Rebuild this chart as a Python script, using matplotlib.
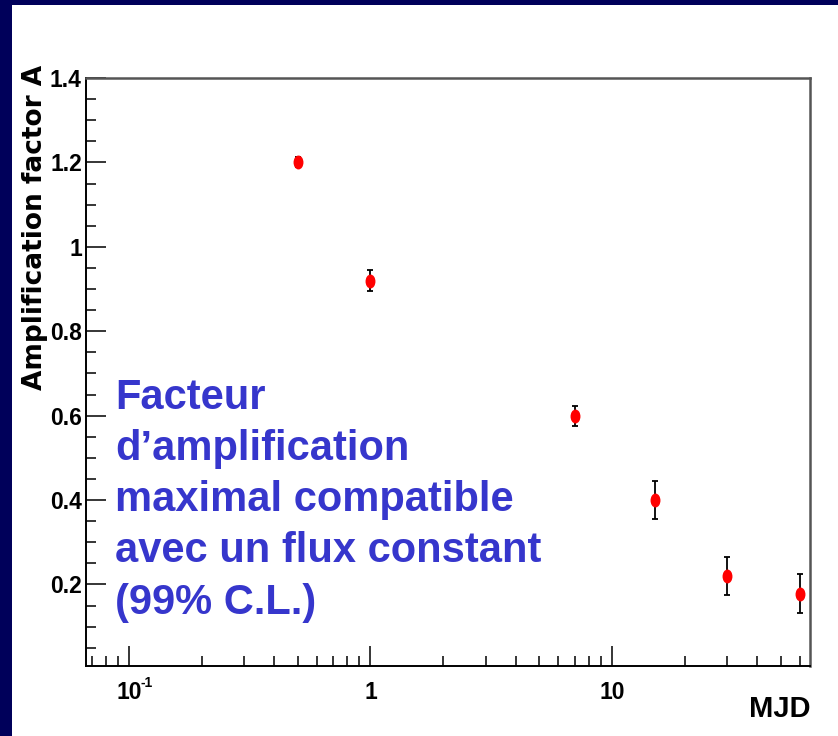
import numpy as np
import matplotlib
matplotlib.use("Agg")
import matplotlib.pyplot as plt
from matplotlib.patches import Rectangle
from matplotlib.path import Path
from matplotlib.ticker import FixedLocator, NullFormatter
import matplotlib.transforms as mtransforms

# ---------------------------------------------------------------------------
# data
# ---------------------------------------------------------------------------
mjd = [0.5, 1.0, 7.0, 15.0, 30.0, 60.0]
amp = [1.20, 0.92, 0.60, 0.40, 0.22, 0.178]
amp_err = [0.012, 0.024, 0.024, 0.046, 0.046, 0.046]

x_major = [0.1, 1, 10]
x_major_labels = ["10", "1", "10"]
y_major = [0.2, 0.4, 0.6, 0.8, 1.0, 1.2, 1.4]
y_major_labels = ["0.2", "0.4", "0.6", "0.8", "1", "1.2", "1.4"]

note = "Facteur\nd\u2019amplification\nmaximal compatible\navec un flux constant\n(99% C.L.)"

# ---------------------------------------------------------------------------
# figure
# ---------------------------------------------------------------------------
W, H = 838, 736
fig = plt.figure(figsize=(W / 100, H / 100), dpi=100, facecolor="white")

# navy slide border (left and top)
navy = "#00005a"
fig.add_artist(Rectangle((0, 0), 12 / W, 1, transform=fig.transFigure, color=navy, lw=0))
fig.add_artist(Rectangle((0, 1 - 5 / H), 1, 5 / H, transform=fig.transFigure, color=navy, lw=0))

left, right, top, bottom = 86, 810, 78, 665.5
ax = fig.add_axes([left / W, 1 - bottom / H, (right - left) / W, (bottom - top) / H])

tick_font = "Liberation Sans"

# ellipse marker (points are stretched vertically in the original)
ell = Path.unit_circle().transformed(mtransforms.Affine2D().scale(0.68, 1.0))

ax.errorbar(mjd, amp, yerr=amp_err, fmt="none", ecolor="black", elinewidth=1.3,
            capsize=2.2, capthick=1.3, zorder=2)
ax.plot(mjd, amp, ls="none", marker=ell, ms=9, mfc="#ff0000", mec="#ff0000", zorder=3)

ax.set_xscale("log")
ax.set_xlim(0.0664, 66.0)
ax.set_ylim(0.008, 1.4)

ax.xaxis.set_major_locator(FixedLocator(x_major))
ax.xaxis.set_minor_locator(FixedLocator([m * 10.0 ** e for e in (-2, -1, 0, 1) for m in range(2, 10)]))
ax.xaxis.set_minor_formatter(NullFormatter())
ax.set_xticklabels(x_major_labels)
ax.yaxis.set_major_locator(FixedLocator(y_major))
ax.yaxis.set_minor_locator(FixedLocator(np.arange(0.05, 1.41, 0.05)))
ax.set_yticklabels(y_major_labels)

ax.tick_params(which="both", direction="in", top=False, right=False, color="black", width=1.1)
ax.tick_params(which="major", length=14.5)
ax.tick_params(which="minor", length=7.2)
ax.tick_params(axis="x", which="major", pad=11)
ax.tick_params(axis="y", which="major", pad=3)
for lab in ax.get_xticklabels() + ax.get_yticklabels():
    lab.set_family(tick_font)
    lab.set_weight("bold")
    lab.set_fontsize(16.5)

# exponent of the 10^-1 label
ax.annotate("-1", xy=(0.1, 0), xycoords=("data", "axes fraction"), xytext=(8.5, -7.5),
            textcoords="offset points", family=tick_font, weight="bold", fontsize=10,
            ha="left", va="top")

for s in ("left", "bottom"):
    ax.spines[s].set_color("black")
    ax.spines[s].set_linewidth(1.4)
for s in ("top", "right"):
    ax.spines[s].set_color("#555555")
    ax.spines[s].set_linewidth(1.8)

# axis titles
fig.text(right / W, 1 - 709 / H, "MJD", family=tick_font, weight="bold", fontsize=21,
         ha="right", va="center")
fig.text(35 / W, 1 - 65 / H, "Amplification factor A", family="DejaVu Sans", weight="bold",
         fontsize=19, rotation=90, ha="center", va="top")

# annotation
fig.text(115 / W, 1 - 378 / H, note, family="Liberation Sans", weight="bold", fontsize=30,
         color="#3636cc", ha="left", va="top", linespacing=1.36)

fig.savefig("out.png", dpi=100, facecolor=fig.get_facecolor())
